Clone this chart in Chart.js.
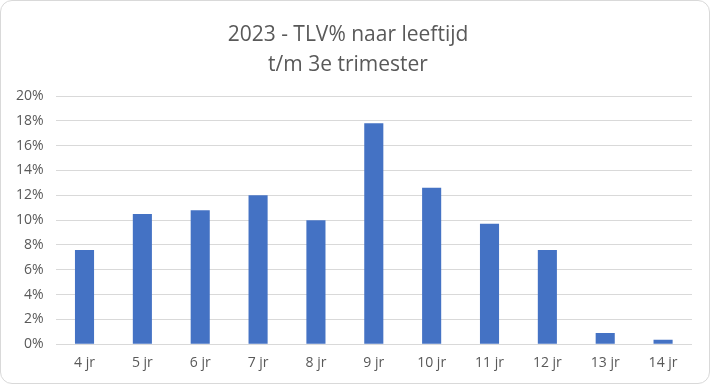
<!DOCTYPE html>
<html>
<head>
<meta charset="utf-8">
<script src="https://cdn.jsdelivr.net/npm/chart.js@4"></script>
<style>
html,body{margin:0;padding:0;background:#fff;}
#wrap{position:absolute;left:0;top:0;width:708px;height:382px;border:1px solid #d9d9d9;border-radius:12px;overflow:hidden;background:#fff;}
canvas{display:block;}
</style>
</head>
<body>
<div id="wrap"><canvas id="c" width="708" height="382"></canvas></div>
<script>
const categories = ['4 jr','5 jr','6 jr','7 jr','8 jr','9 jr','10 jr','11 jr','12 jr','13 jr','14 jr'];
const tlvPercent = [7.6, 10.5, 10.8, 12.0, 10.0, 17.8, 12.6, 9.7, 7.6, 0.9, 0.35];
const titleLines = ['2023 - TLV% naar leeftijd', 't/m 3e trimester'];
const yMax = 20;
const yStep = 2;

new Chart(document.getElementById('c'), {
  type: 'bar',
  data: {
    labels: categories,
    datasets: [{
      data: tlvPercent,
      backgroundColor: '#4472c4',
      borderWidth: 0,
      barPercentage: 0.33,
      categoryPercentage: 1.0
    }]
  },
  options: {
    responsive: false,
    animation: false,
    layout: { padding: { left: 3, right: 17, top: 2, bottom: 2 } },
    plugins: {
      legend: { display: false },
      tooltip: { enabled: false },
      title: {
        display: true,
        text: titleLines,
        color: '#595959',
        font: { family: 'Open Sans', size: 21, weight: 'normal', lineHeight: 1.43 },
        padding: { top: 17, bottom: 16 }
      }
    },
    scales: {
      x: {
        grid: { display: false, drawTicks: false },
        border: { display: false },
        ticks: { color: '#595959', font: { family: 'Open Sans', size: 14 }, padding: 10 }
      },
      y: {
        min: 0,
        max: yMax,
        ticks: {
          stepSize: yStep,
          color: '#595959',
          font: { family: 'Open Sans', size: 14 },
          padding: 12,
          callback: v => v + '%'
        },
        grid: { color: '#d9d9d9', lineWidth: 1, drawTicks: false },
        border: { display: false }
      }
    }
  }
});
</script>
</body>
</html>
